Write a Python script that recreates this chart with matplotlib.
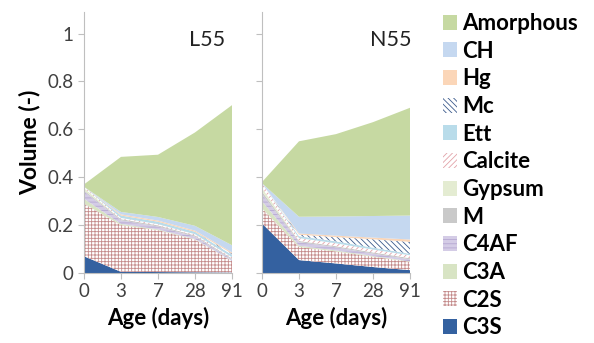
import matplotlib.pyplot as plt
from matplotlib.patches import Patch
import numpy as np

plt.rcParams['font.family'] = ['Lato', 'DejaVu Sans']
plt.rcParams['hatch.linewidth'] = 0.6

ages = ['0', '3', '7', '28', '91']
phases = ['C3S', 'C2S', 'C3A', 'C4AF', 'M', 'Gypsum', 'Calcite', 'Ett', 'Mc', 'Hg', 'CH', 'Amorphous']

# volume fractions per phase, bottom to top, for each age
l55_c3s = [0.07, 0.005, 0.004, 0.003, 0.002]
l55_c2s = [0.22, 0.195, 0.175, 0.137, 0.048]
l55_c3a = [0.02, 0.005, 0.003, 0.002, 0.001]
l55_c4af = [0.03, 0.015, 0.012, 0.010, 0.005]
l55_m = [0.005, 0.005, 0.005, 0.005, 0.005]
l55_gyp = [0.01, 0.0, 0.0, 0.0, 0.0]
l55_calc = [0.005, 0.005, 0.005, 0.005, 0.005]
l55_ett = [0.0, 0.01, 0.01, 0.01, 0.01]
l55_mc = [0.0, 0.0, 0.0, 0.0, 0.005]
l55_hg = [0.0, 0.005, 0.005, 0.005, 0.005]
l55_ch = [0.0, 0.01, 0.015, 0.02, 0.03]
l55_amor = [0.01, 0.23, 0.26, 0.39, 0.585]

n55_c3s = [0.207, 0.054, 0.04, 0.025, 0.012]
n55_c2s = [0.063, 0.055, 0.05, 0.043, 0.035]
n55_c3a = [0.03, 0.005, 0.004, 0.003, 0.002]
n55_c4af = [0.03, 0.015, 0.013, 0.010, 0.008]
n55_m = [0.01, 0.005, 0.005, 0.005, 0.005]
n55_gyp = [0.015, 0.0, 0.0, 0.0, 0.0]
n55_calc = [0.02, 0.012, 0.012, 0.012, 0.012]
n55_ett = [0.0, 0.008, 0.008, 0.008, 0.006]
n55_mc = [0.0, 0.006, 0.018, 0.035, 0.05]
n55_hg = [0.0, 0.005, 0.006, 0.007, 0.01]
n55_ch = [0.0, 0.07, 0.08, 0.09, 0.10]
n55_amor = [0.005, 0.315, 0.344, 0.392, 0.45]

l55 = [l55_c3s, l55_c2s, l55_c3a, l55_c4af, l55_m, l55_gyp, l55_calc,
       l55_ett, l55_mc, l55_hg, l55_ch, l55_amor]
n55 = [n55_c3s, n55_c2s, n55_c3a, n55_c4af, n55_m, n55_gyp, n55_calc,
       n55_ett, n55_mc, n55_hg, n55_ch, n55_amor]

# (face, hatch, hatch colour)
styles = {
    'C3S': ('#3461a0', None, None),
    'C2S': ('white', '+++++', '#c48a8a'),
    'C3A': ('#d8e4c4', None, None),
    'C4AF': ('#d4cce6', '----', '#b6a8d2'),
    'M': ('#c9c9c9', None, None),
    'Gypsum': ('#e4ecd2', None, None),
    'Calcite': ('white', '//////', '#e2a2a8'),
    'Ett': ('#b9dcea', None, None),
    'Mc': ('white', '\\\\\\\\\\\\', '#3b5a8c'),
    'Hg': ('#fbd6b8', None, None),
    'CH': ('#c5d8f0', None, None),
    'Amorphous': ('#c6d9a2', None, None),
}

W, H = 594, 343
fig = plt.figure(figsize=(W / 100, H / 100), dpi=100)
ax1 = fig.add_axes([84 / W, 1 - 273 / H, 148 / W, 261 / H])
ax2 = fig.add_axes([262 / W, 1 - 273 / H, 148 / W, 261 / H])

x = np.arange(len(ages))
grey = '#bfbfbf'
for ax, data, name, tx in [(ax1, l55, 'L55', 0.955), (ax2, n55, 'N55', 1.01)]:
    base = np.zeros(len(ages))
    for ph, vals in zip(phases, data):
        top = base + np.array(vals)
        face, hatch, hc = styles[ph]
        ax.fill_between(x, base, top, facecolor=face, hatch=hatch,
                        edgecolor=hc if hc else 'none', linewidth=0)
        base = top
    ax.set_xlim(0, 4)
    ax.set_ylim(0, 1.09)
    ax.set_xticks(x)
    ax.set_xticklabels(ages)
    ax.set_yticks([0, 0.2, 0.4, 0.6, 0.8, 1.0])
    ax.set_yticklabels(['0', '0.2', '0.4', '0.6', '0.8', '1'])
    for s in ['top', 'right']:
        ax.spines[s].set_visible(False)
    for s in ['left', 'bottom']:
        ax.spines[s].set_color(grey)
        ax.spines[s].set_zorder(5)
    ax.tick_params(colors=grey, labelcolor='#404040', labelsize=13.5, length=4, width=0.8)
    ax.set_xlabel('Age (days)', fontsize=16, fontweight='bold', labelpad=5)
    ax.text(tx, 0.893, name, transform=ax.transAxes, ha='right', va='center',
            fontsize=15.5, color='#222222')

ax1.set_ylabel('Volume (-)', fontsize=16.5, fontweight='bold', labelpad=5)
ax2.tick_params(axis='y', labelleft=False)

handles = []
for ph in phases[::-1]:
    face, hatch, hc = styles[ph]
    handles.append(Patch(facecolor=face, hatch=hatch,
                         edgecolor=hc if hc else face, linewidth=0, label=ph))
fig.legend(handles=handles, loc='upper left', bbox_to_anchor=(423 / W, 1 + 7 / H),
           frameon=False, prop={'weight': 'bold', 'size': 16},
           handlelength=0.65, handleheight=0.65, handletextpad=0.2, labelspacing=0.3)

plt.savefig('out.png', dpi=100)
